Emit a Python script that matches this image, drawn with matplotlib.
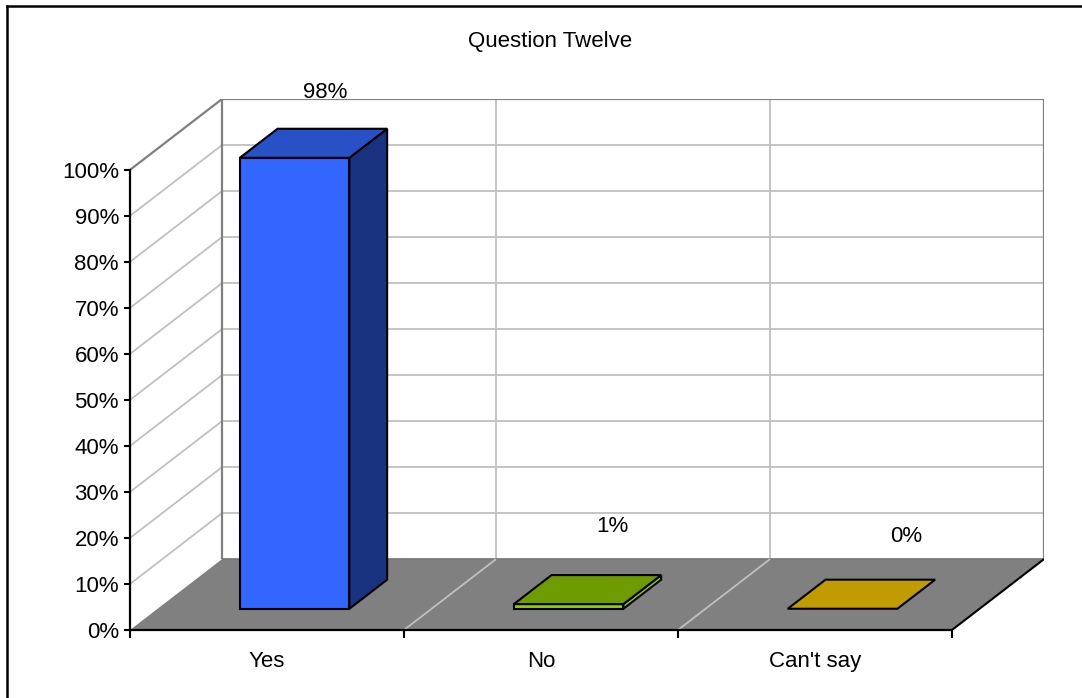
import matplotlib
matplotlib.use("Agg")
import matplotlib.pyplot as plt
from matplotlib.patches import Polygon
from matplotlib.lines import Line2D

plt.rcParams['font.family'] = ['Liberation Sans', 'DejaVu Sans']

# ---- data ----
title = "Question Twelve"
categories = ["Yes", "No", "Can't say"]
values = [98, 1, 0]                      # percent
y_ticks = list(range(0, 101, 10))
y_tick_labels = [f"{t}%" for t in y_ticks]

# ---- styling ----
front_colors = ["#3366FF", "#99CC00", "#C29B00"]
top_colors = ["#2851C8", "#6E9B00", "#C29B00"]
side_colors = ["#1A3380", "#99CC00", "#8A6E00"]
label_nudge_px = [(12, 51), (25, 63), (45, 58)]

FS = 16
DX, DY = 0.336, 15.4       # oblique depth offset (category units, percent units)
BAR_W = 0.4
D0, D1 = 0.30, 0.71        # bar depth span (fraction of floor depth)
GRID = "#C0C0C0"
WALL = "#808080"

W, H = 1082, 698
fig = plt.figure(figsize=(W / 100, H / 100), dpi=100)
ax = fig.add_axes([130 / W, 68 / H, 914 / W, 531 / H])
n = len(categories)
ax.set_xlim(0, n + DX)
ax.set_ylim(0, 100 + DY)
ax.set_facecolor("none")


def proj(x, y, d):
    return (x + d * DX, y + d * DY)


def poly(pts, fc, ec="none", lw=0, z=1):
    ax.add_patch(Polygon([proj(*p) for p in pts], closed=True, facecolor=fc,
                         edgecolor=ec, linewidth=lw, zorder=z, joinstyle="miter"))


def seg(p, q, color, lw, z=1):
    a, b = proj(*p), proj(*q)
    ax.add_line(Line2D([a[0], b[0]], [a[1], b[1]], color=color, linewidth=lw,
                       zorder=z, solid_capstyle="butt"))


# back wall gridlines
for t in y_ticks[1:-1]:
    seg((0, t, 1), (n, t, 1), GRID, 1.3)
    seg((0, t, 0), (0, t, 1), GRID, 1.3)
for i in range(1, n):
    seg((i, 0, 1), (i, 100, 1), GRID, 1.3)

# wall borders
seg((0, 100, 0), (0, 100, 1), WALL, 1.6, z=2)
seg((0, 100, 1), (n, 100, 1), WALL, 1.6, z=2)
seg((n, 100, 1), (n, 0, 1), WALL, 1.6, z=2)
seg((0, 100, 1), (0, 0, 1), WALL, 1.6, z=2)

# floor
poly([(0, 0, 0), (n, 0, 0), (n, 0, 1), (0, 0, 1)], WALL, z=3)
seg((0, 0, 1), (n, 0, 1), "#737373", 1.2, z=3)
for i in range(1, n):
    seg((i, 0, 0), (i, 0, 1), GRID, 1.3, z=3)
seg((n, 0, 0), (n, 0, 1), "black", 1.5, z=3)

# bars
for i, v in enumerate(values):
    x0 = i + 0.5 - BAR_W / 2
    x1 = i + 0.5 + BAR_W / 2
    ek = dict(ec="black", lw=1.5, z=5)
    if v > 0:
        poly([(x0, 0, D0), (x1, 0, D0), (x1, v, D0), (x0, v, D0)], front_colors[i], **ek)
        poly([(x1, 0, D0), (x1, 0, D1), (x1, v, D1), (x1, v, D0)], side_colors[i], **ek)
    poly([(x0, v, D0), (x1, v, D0), (x1, v, D1), (x0, v, D1)], top_colors[i], **ek)
    # value label
    ax.annotate(f"{v}%", xy=proj(i + 0.5, v, 0.5), xytext=(label_nudge_px[i][0] * 0.72,
                label_nudge_px[i][1] * 0.72), textcoords="offset points",
                ha="center", va="center", fontsize=FS, annotation_clip=False, zorder=6)

# axes
for s in ["top", "right"]:
    ax.spines[s].set_visible(False)
for s in ["left", "bottom"]:
    ax.spines[s].set_linewidth(1.6)
    ax.spines[s].set_zorder(7)
ax.spines["left"].set_bounds(0, 100)
ax.spines["bottom"].set_bounds(0, n)

ax.set_yticks(y_ticks)
ax.set_yticklabels(y_tick_labels, fontsize=FS)
ax.tick_params(axis="y", direction="out", length=4, width=1.5, pad=4)

ax.set_xticks(range(n + 1))
ax.set_xticklabels([""] * (n + 1))
ax.set_xticks([i + 0.5 for i in range(n)], minor=True)
ax.set_xticklabels(categories, minor=True, fontsize=FS)
ax.tick_params(axis="x", which="major", direction="out", length=6, width=1.5)
ax.tick_params(axis="x", which="minor", length=0, pad=15)

fig.text(550 / W, 1 - 42 / H, title, ha="center", va="center", fontsize=FS)

# outer frame (left and top edges)
fig.add_artist(Line2D([7 / W, 7 / W], [0, 1 - 6 / H], color="black", linewidth=1.8,
                      transform=fig.transFigure))
fig.add_artist(Line2D([7 / W, 1], [1 - 6 / H, 1 - 6 / H], color="black", linewidth=1.8,
                      transform=fig.transFigure))

fig.savefig("out.png", dpi=100)
